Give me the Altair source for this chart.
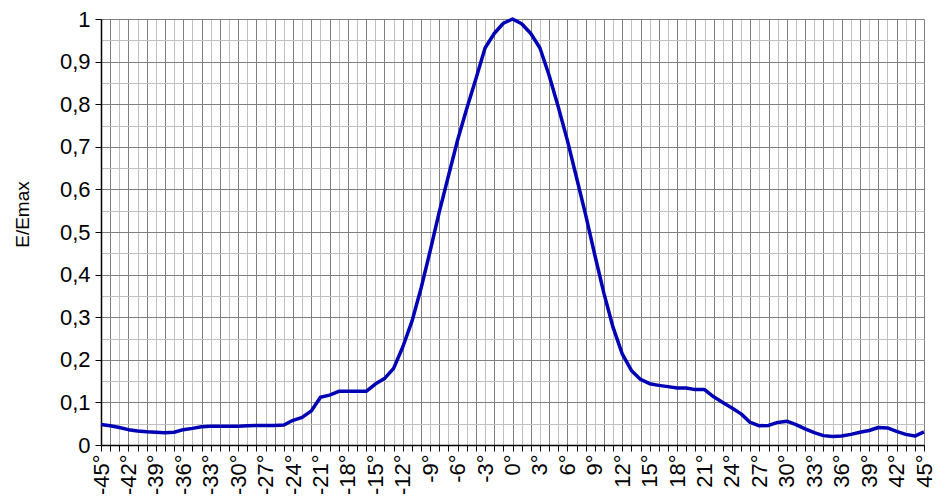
import altair as alt
import pandas as pd

angles = list(range(-45, 46))
e_rel = [
    0.048, 0.045, 0.041, 0.036, 0.033, 0.031, 0.030, 0.029, 0.030, 0.036,
    0.039, 0.043, 0.044, 0.044, 0.044, 0.044, 0.045, 0.046, 0.046, 0.046,
    0.047, 0.058, 0.065, 0.080, 0.112, 0.117, 0.126, 0.126, 0.126, 0.126,
    0.143, 0.156, 0.180, 0.230, 0.290, 0.368, 0.456, 0.548, 0.632, 0.716,
    0.790, 0.860, 0.932, 0.966, 0.990, 1.000, 0.989, 0.966, 0.932, 0.868,
    0.794, 0.715, 0.628, 0.540, 0.446, 0.356, 0.276, 0.214, 0.175, 0.154,
    0.144, 0.140, 0.137, 0.134, 0.134, 0.130, 0.130, 0.113, 0.100, 0.087,
    0.073, 0.053, 0.045, 0.046, 0.053, 0.056, 0.048, 0.038, 0.029, 0.022,
    0.020, 0.021, 0.025, 0.030, 0.034, 0.041, 0.040, 0.032, 0.025, 0.021,
    0.031,
]
x_ticks = list(range(-45, 46))
y_ticks = [round(i * 0.05, 2) for i in range(21)]

df = pd.DataFrame({"angle": angles, "E": e_rel})

FONT = "Liberation Sans"
major_y = "round(datum.value*100) % 10 == 0"
major_x = "datum.value % 2 == 0 || datum.value == 45"

chart = alt.Chart(df).mark_line(
    color="#0000b4", strokeWidth=3.5, strokeJoin="round"
).encode(
    x=alt.X(
        "angle:Q",
        scale=alt.Scale(domain=[-45, 45], nice=False, zero=False),
        axis=alt.Axis(
            values=x_ticks,
            title=None,
            labelAngle=-90,
            labelExpr="datum.value % 3 == 0 ? datum.value + '°' : ''",
            labelOverlap=False,
            labelFlush=False,
            labelBound=False,
            labelFont=FONT,
            labelFontSize=22,
            labelColor="black",
            labelPadding=3,
            tickSize=6,
            tickColor="black",
            domainColor="black",
            domainWidth=1.5,
            gridColor={"condition": {"test": major_x, "value": "#808080"}, "value": "#c0c0c0"},
            gridOpacity=1,
            gridWidth=1,
        ),
    ),
    y=alt.Y(
        "E:Q",
        scale=alt.Scale(domain=[0, 1], nice=False, zero=True),
        axis=alt.Axis(
            values=y_ticks,
            title="E/Emax",
            titleFont=FONT,
            titleFontSize=19,
            titleFontWeight="normal",
            titleColor="black",
            titleX=-79,
            titleY=195,
            titleAlign="center",
            titleBaseline="middle",
            labelExpr=major_y + " ? replace(format(datum.value, '.1~f'), '.', ',') : ''",
            labelFont=FONT,
            labelFontSize=22,
            labelColor="black",
            labelPadding=5,
            labelOverlap=False,
            labelFlush=False,
            labelBound=False,
            tickSize=6,
            tickColor={"condition": {"test": major_y, "value": "black"}, "value": "transparent"},
            domainColor="black",
            domainWidth=1.5,
            gridColor={"condition": {"test": major_y, "value": "#808080"}, "value": "#c0c0c0"},
            gridOpacity=1,
            gridWidth=1,
        ),
    ),
).properties(
    width=823,
    height=426,
    autosize=alt.AutoSizeParams(type="none"),
    padding={"left": 93, "top": 11, "right": 11, "bottom": 60},
).configure_view(
    stroke=None
).configure(
    background="white"
)

chart.save("out.html", embed_options={"renderer": "svg", "actions": False})
